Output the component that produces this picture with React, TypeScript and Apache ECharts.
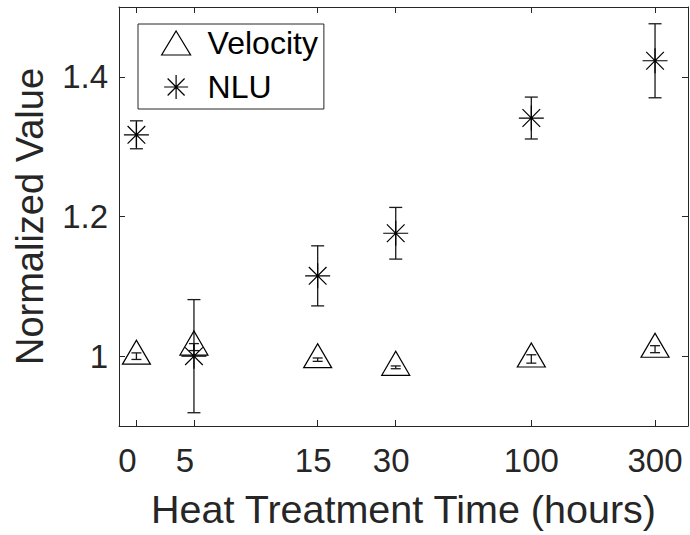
import React, { useEffect, useRef } from "react";
import * as echarts from "echarts";

// ---- data ----
const hours = [0, 5, 15, 30, 100, 300];
const tickLabels = ["0", "5", "15", "30", "100", "300"];
// the 0-hour group is drawn at 3 hours on the logarithmic time axis
const zeroPlotHours = 3;
const xRangeHours = [2.57, 402];
const yRange = [0.9, 1.5];
const yTicks = [1, 1.2, 1.4];

const velocity = [1.0, 1.013, 0.995, 0.984, 0.996, 1.01];
const velocityErr = [0.0047, 0.005, 0.0024, 0.002, 0.006, 0.005];
const nlu = [1.317, 1.0, 1.115, 1.176, 1.341, 1.423];
const nluErr = [0.02, 0.081, 0.043, 0.037, 0.03, 0.053];

const plotX = hours.map((h) => Math.log10(h === 0 ? zeroPlotHours : h));
const xMin = Math.log10(xRangeHours[0]);
const xMax = Math.log10(xRangeHours[1]);

const INK = "#262626";
const FONT = "'Liberation Sans', Arial, Helvetica, sans-serif";
const STAR =
  "path://M-1 0L1 0M0 -1L0 1M-0.707 -0.707L0.707 0.707M-0.707 0.707L0.707 -0.707";

function labelFor(v: number): string {
  for (let i = 0; i < plotX.length; i++) {
    if (Math.abs(plotX[i] - v) < 1e-6) {
      const t = tickLabels[i];
      const pad = t.length === 1 ? "p2" : t.length === 2 ? "p1" : "p0";
      return "{" + pad + "|" + t + "}";
    }
  }
  return "";
}

function errRender(capHalf: number) {
  return (params: any, api: any) => {
    const x = api.value(0);
    const y = api.value(1);
    const e = api.value(2);
    const top = api.coord([x, y + e]);
    const bot = api.coord([x, y - e]);
    const style = { stroke: "#1a1a1a", lineWidth: 1.3 };
    return {
      type: "group",
      children: [
        { type: "line", shape: { x1: top[0], y1: top[1], x2: bot[0], y2: bot[1] }, style },
        { type: "line", shape: { x1: top[0] - capHalf, y1: top[1], x2: top[0] + capHalf, y2: top[1] }, style },
        { type: "line", shape: { x1: bot[0] - capHalf, y1: bot[1], x2: bot[0] + capHalf, y2: bot[1] }, style },
      ],
    };
  };
}

export default function App() {
  const ref = useRef<HTMLDivElement>(null);
  useEffect(() => {
    if (!ref.current) return;
    const chart = echarts.init(ref.current, undefined, { renderer: "svg" });
    const labelStyle = { fontSize: 33, fontFamily: FONT, color: INK };
    const commonX = {
      type: "value",
      min: xMin,
      max: xMax,
      splitLine: { show: false },
      axisLine: { show: true, lineStyle: { color: INK, width: 1 } },
      axisTick: { show: true, inside: true, length: 6, customValues: plotX, lineStyle: { color: INK } },
    };
    const commonY = {
      type: "value",
      min: yRange[0],
      max: yRange[1],
      splitLine: { show: false },
      axisLine: { show: true, lineStyle: { color: INK, width: 1 } },
      axisTick: { show: true, inside: true, length: 6, customValues: yTicks, lineStyle: { color: INK } },
    };
    chart.setOption({
      animation: false,
      backgroundColor: "#ffffff",
      grid: { left: 119, right: 2, top: 7, bottom: 109, containLabel: false },
      xAxis: [
        {
          ...commonX,
          position: "bottom",
          name: "Heat Treatment Time (hours)",
          nameLocation: "middle",
          nameGap: 63,
          nameTextStyle: { fontSize: 39.5, fontFamily: FONT, color: INK },
          axisLabel: {
            show: true,
            margin: 18,
            customValues: plotX,
            formatter: (v: number) => labelFor(v),
            ...labelStyle,
            rich: {
              p0: { ...labelStyle, padding: [0, 0, 0, 0] },
              p1: { ...labelStyle, padding: [0, 9, 0, 0] },
              p2: { ...labelStyle, padding: [0, 18, 0, 0] },
            },
          },
        },
        { ...commonX, position: "top", axisLabel: { show: false } },
      ],
      yAxis: [
        {
          ...commonY,
          position: "left",
          name: "Normalized Value",
          nameLocation: "middle",
          nameGap: 70,
          nameRotate: 90,
          nameTextStyle: { fontSize: 38, fontFamily: FONT, color: INK },
          axisLabel: {
            show: true,
            margin: 11,
            customValues: yTicks,
            formatter: (v: number) => String(Number(v.toFixed(1))),
            ...labelStyle,
          },
        },
        { ...commonY, position: "right", axisLabel: { show: false } },
      ],
      legend: {
        orient: "vertical",
        left: 138,
        top: 24,
        padding: [3, 6, 6, 23],
        itemGap: 12,
        itemWidth: 29,
        itemHeight: 24,
        borderColor: INK,
        borderWidth: 1,
        backgroundColor: "#ffffff",
        textStyle: { fontSize: 32, fontFamily: FONT, color: "#000", padding: [0, 0, 0, 12] },
        data: [
          {
            name: "Velocity",
            icon: "triangle",
            itemStyle: { color: "rgba(0,0,0,0)", borderColor: "#000", borderWidth: 1.2 },
          },
          {
            name: "NLU",
            icon: STAR,
            itemStyle: { color: "rgba(0,0,0,0)", borderColor: "#000", borderWidth: 1.2 },
          },
        ],
      },
      series: [
        {
          name: "Velocity err",
          type: "custom",
          xAxisIndex: 0,
          yAxisIndex: 0,
          encode: { x: 0, y: 1 },
          renderItem: errRender(5),
          data: hours.map((_, i) => [plotX[i], velocity[i], velocityErr[i]]),
          z: 2,
        },
        {
          name: "NLU err",
          type: "custom",
          xAxisIndex: 0,
          yAxisIndex: 0,
          encode: { x: 0, y: 1 },
          renderItem: errRender(6.5),
          data: hours.map((_, i) => [plotX[i], nlu[i], nluErr[i]]),
          z: 2,
        },
        {
          name: "Velocity",
          type: "scatter",
          symbol: "triangle",
          symbolSize: [28, 24],
          symbolOffset: [0, -4],
          itemStyle: { color: "rgba(0,0,0,0)", borderColor: "#000", borderWidth: 1.2, opacity: 1 },
          data: hours.map((_, i) => [plotX[i], velocity[i]]),
          z: 3,
        },
        {
          name: "NLU",
          type: "scatter",
          symbol: STAR,
          symbolSize: 25,
          itemStyle: { color: "rgba(0,0,0,0)", borderColor: "#000", borderWidth: 1.2, opacity: 1 },
          data: hours.map((_, i) => [plotX[i], nlu[i]]),
          z: 3,
        },
      ],
    });
    return () => chart.dispose();
  }, []);
  return (
    <div
      ref={ref}
      style={{ position: "fixed", left: 0, top: 0, width: 690, height: 535, background: "#fff" }}
    />
  );
}
